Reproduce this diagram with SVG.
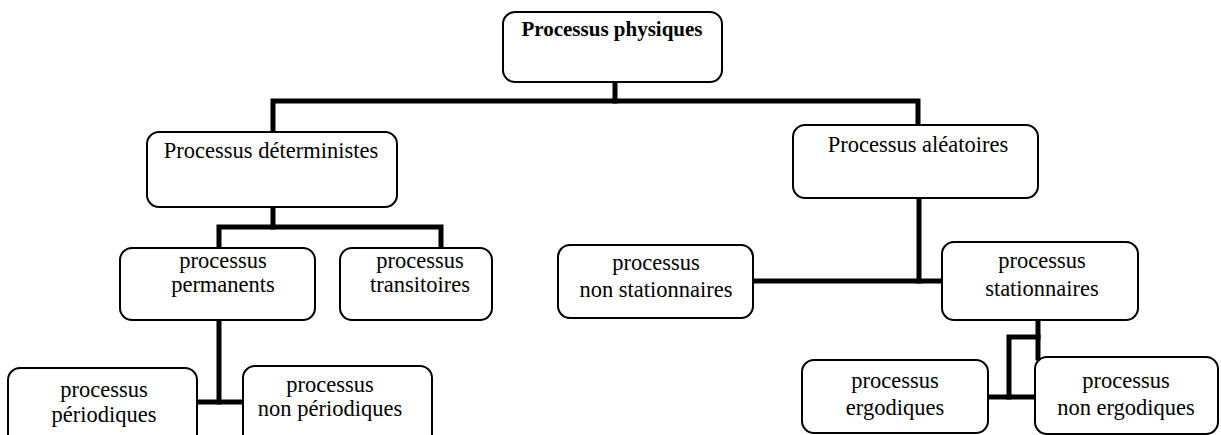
<svg xmlns="http://www.w3.org/2000/svg" width="1221" height="435" viewBox="0 0 1221 435">
  <style>
    .box { fill: #ffffff; stroke: #000000; stroke-width: 2; }
    .lbl { font-family: "Liberation Serif", "Times New Roman", serif; font-size: 22.5px; fill: #000000; text-anchor: middle; }
    .head { font-size: 21px; font-weight: bold; }
    .wire { fill: none; stroke: #000000; stroke-width: 5; stroke-linejoin: miter; stroke-linecap: square; }
  </style>
  <rect x="0" y="0" width="1221" height="435" fill="#ffffff"/>

  <!-- tree connectors -->
  <g id="connectors">
    <path class="wire" d="M615 82 V101"/>
    <path class="wire" d="M273 132 V101 H918 V125"/>
    <path class="wire" d="M273 207 V227"/>
    <path class="wire" d="M219 248 V227 H441 V248"/>
    <path class="wire" d="M219 320 V402"/>
    <path class="wire" d="M197 402 H243"/>
    <path class="wire" d="M919 198 V281"/>
    <path class="wire" d="M753 281 H942"/>
    <path class="wire" d="M1038 320 V358"/>
    <path class="wire" d="M1038 337 H1009 V397"/>
    <path class="wire" d="M988 397 H1035"/>
  </g>

  <g id="physiques">
    <rect class="box" x="503" y="12" width="219" height="70" rx="12"/>
    <text class="lbl head" x="612" y="36">Processus physiques</text>
  </g>

  <g id="deterministes">
    <rect class="box" x="147" y="132" width="250" height="75" rx="12"/>
    <text class="lbl" x="271" y="158">Processus déterministes</text>
  </g>

  <g id="aleatoires">
    <rect class="box" x="793" y="125" width="245" height="73" rx="12"/>
    <text class="lbl" x="918" y="152">Processus aléatoires</text>
  </g>

  <g id="permanents">
    <rect class="box" x="120" y="248" width="195" height="72" rx="12"/>
    <text class="lbl" x="223" y="268">processus</text>
    <text class="lbl" x="223" y="292">permanents</text>
  </g>

  <g id="transitoires">
    <rect class="box" x="340" y="248" width="152" height="72" rx="12"/>
    <text class="lbl" x="420" y="268">processus</text>
    <text class="lbl" x="420" y="292">transitoires</text>
  </g>

  <g id="non-stationnaires">
    <rect class="box" x="558" y="245" width="195" height="73" rx="12"/>
    <text class="lbl" x="656" y="270">processus</text>
    <text class="lbl" x="656" y="297">non stationnaires</text>
  </g>

  <g id="stationnaires">
    <rect class="box" x="942" y="242" width="196" height="78" rx="12"/>
    <text class="lbl" x="1042" y="268">processus</text>
    <text class="lbl" x="1042" y="296">stationnaires</text>
  </g>

  <g id="periodiques">
    <rect class="box" x="8" y="368" width="189" height="80" rx="12"/>
    <text class="lbl" x="104" y="397">processus</text>
    <text class="lbl" x="104" y="422">périodiques</text>
  </g>

  <g id="non-periodiques">
    <rect class="box" x="243" y="366" width="189" height="82" rx="12"/>
    <text class="lbl" x="330" y="392">processus</text>
    <text class="lbl" x="330" y="416">non périodiques</text>
  </g>

  <g id="ergodiques">
    <rect class="box" x="802" y="360" width="186" height="73" rx="12"/>
    <text class="lbl" x="895" y="388">processus</text>
    <text class="lbl" x="895" y="415">ergodiques</text>
  </g>

  <g id="non-ergodiques">
    <rect class="box" x="1035" y="357" width="183" height="77" rx="12"/>
    <text class="lbl" x="1126" y="388">processus</text>
    <text class="lbl" x="1126" y="415">non ergodiques</text>
  </g>
</svg>
